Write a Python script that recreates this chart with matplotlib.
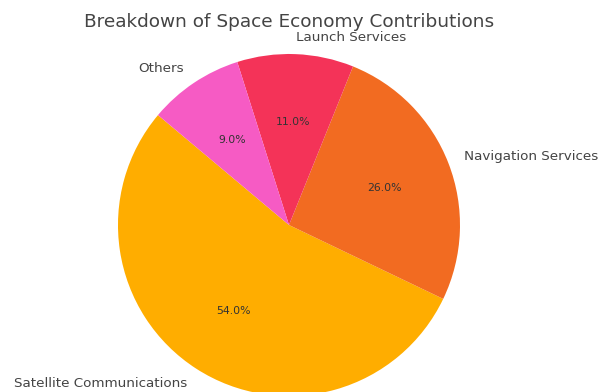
import matplotlib
matplotlib.use("Agg")
import matplotlib.pyplot as plt

# ==== Data ====
categories = ["Satellite Communications", "Navigation Services", "Launch Services", "Others"]
shares = [54, 26, 11, 9]
colors = ["#FFAD00", "#F26B21", "#F43358", "#F65BC4"]

fig = plt.figure(figsize=(5.99, 3.92), dpi=100)
ax = fig.add_axes([0.1256, -0.1193, 0.7137, 1.0906])

wedges, texts, autotexts = ax.pie(
    shares,
    labels=categories,
    colors=colors,
    autopct="%1.1f%%",
    startangle=140,
    labeldistance=1.1,
    pctdistance=0.6,
    textprops={"color": "#444444", "fontsize": 9.7},
)
for t in autotexts:
    t.set_fontsize(7.8)
    t.set_color("#333333")

ax.set_xlim(-1.25, 1.25)
ax.set_ylim(-1.25, 1.25)
ax.set_aspect("equal")

fig.text(0.4825, 0.945, "Breakdown of Space Economy Contributions",
         ha="center", va="center", fontsize=13.3, color="#444444")

fig.savefig("out.png", dpi=100)
